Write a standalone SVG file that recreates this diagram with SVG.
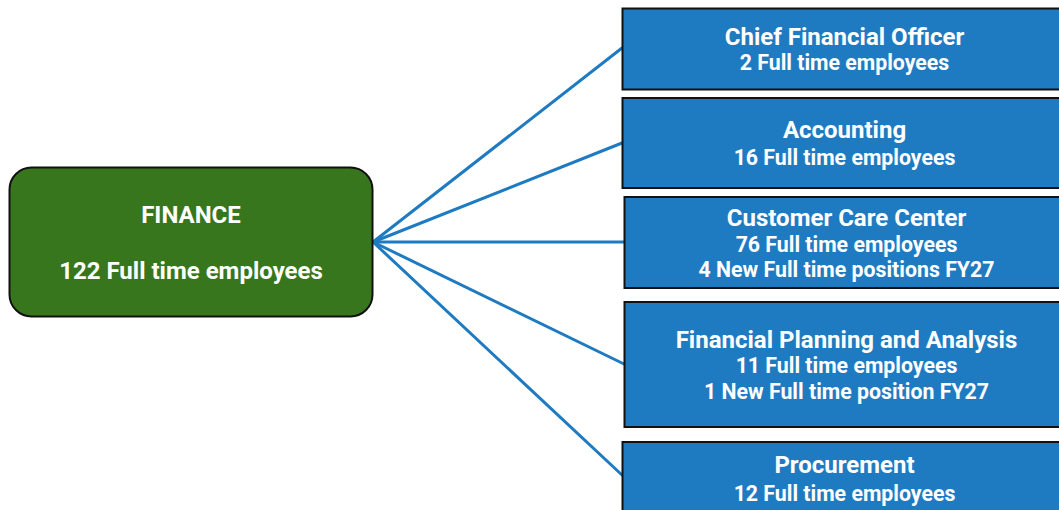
<svg xmlns="http://www.w3.org/2000/svg" width="1059" height="510" viewBox="0 0 1059 510">
<style>
.t{font-family:Roboto,"Liberation Sans",sans-serif;font-weight:bold;fill:#fff;text-anchor:middle}
.h{font-size:24px}
.s{font-size:21.3px}
.box{fill:#1f7bc1;stroke:#111;stroke-width:2}
.conn line{stroke:#1f7bc1;stroke-width:3;stroke-linecap:round}
</style>
<rect width="1059" height="510" fill="#fff"/>
<g class="conn" id="connectors">
<line x1="373" y1="242" x2="622" y2="48"/>
<line x1="373" y1="242" x2="622" y2="143"/>
<line x1="373" y1="242" x2="624" y2="242"/>
<line x1="373" y1="242" x2="624" y2="364"/>
<line x1="373" y1="242" x2="622" y2="475"/>
</g>
<g id="finance">
<rect x="9.5" y="167.5" width="363" height="149" rx="22" fill="#38761d" stroke="#111" stroke-width="2"/>
<text class="t h" x="191" y="223">FINANCE</text>
<text class="t h" x="191" y="279">122 Full time employees</text>
</g>
<g id="cfo">
<rect class="box" x="622.5" y="8.5" width="450" height="81"/>
<text class="t h" x="844.5" y="45">Chief Financial Officer</text>
<text class="t s" x="844.5" y="70">2 Full time employees</text>
</g>
<g id="accounting">
<rect class="box" x="622.5" y="98" width="450" height="90"/>
<text class="t h" x="844.5" y="138">Accounting</text>
<text class="t s" x="844.5" y="165">16 Full time employees</text>
</g>
<g id="ccc">
<rect class="box" x="624.5" y="197" width="450" height="91"/>
<text class="t h" x="846.5" y="226">Customer Care Center</text>
<text class="t s" x="846.5" y="251.5">76 Full time employees</text>
<text class="t s" x="846.5" y="277">4 New Full time positions FY27</text>
</g>
<g id="fpa">
<rect class="box" x="624.5" y="302" width="450" height="125"/>
<text class="t h" x="846.5" y="347.5">Financial Planning and Analysis</text>
<text class="t s" x="846.5" y="373">11 Full time employees</text>
<text class="t s" x="846.5" y="399">1 New Full time position FY27</text>
</g>
<g id="procurement">
<rect class="box" x="622.5" y="442" width="450" height="90"/>
<text class="t h" x="844.5" y="472.5">Procurement</text>
<text class="t s" x="844.5" y="500.5">12 Full time employees</text>
</g>
</svg>
